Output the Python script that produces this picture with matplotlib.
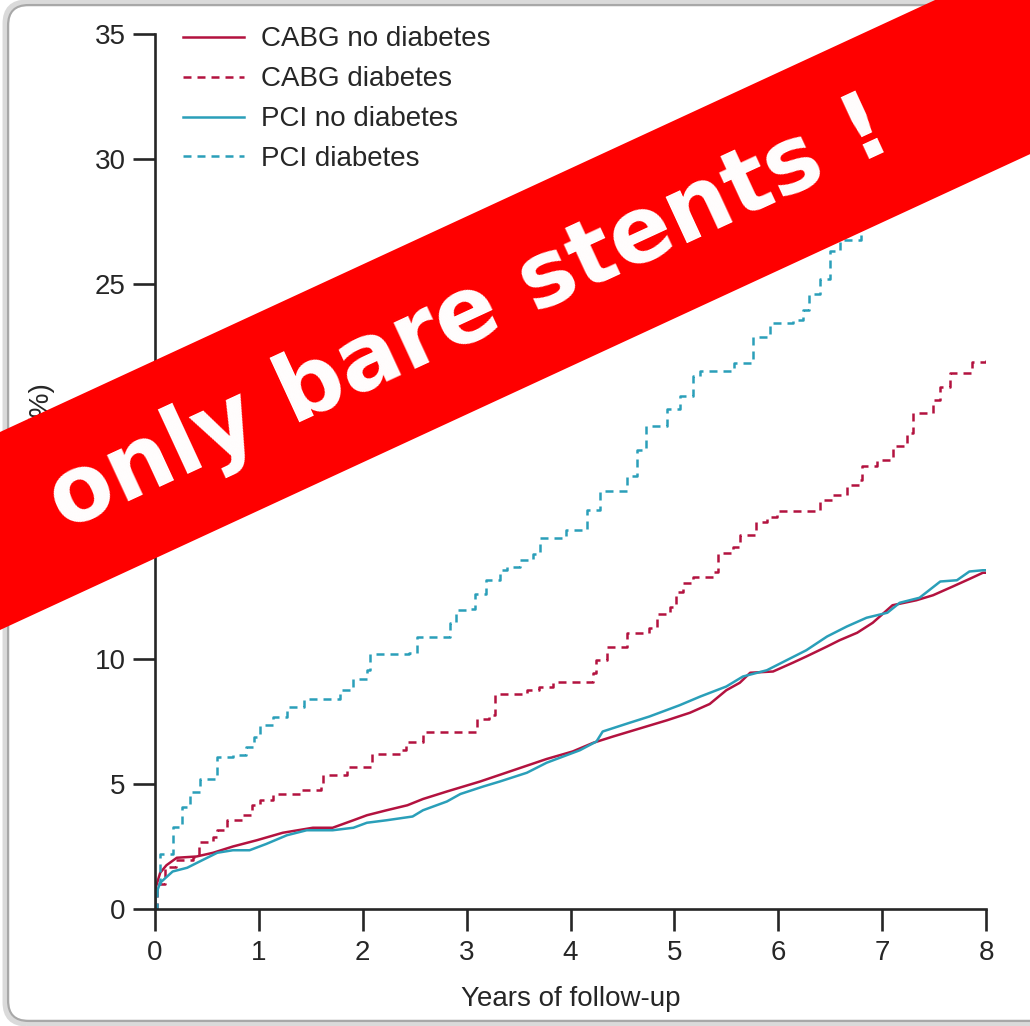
import numpy as np
import matplotlib
matplotlib.use('Agg')
import matplotlib.pyplot as plt
from matplotlib.patches import Polygon, FancyBboxPatch

plt.rcParams['font.family'] = ['Liberation Sans', 'DejaVu Sans']

# Kaplan-Meier curves (years, mortality %)
cabg_nodm_t = [0, 0.01, 0.05, 0.11, 0.21, 0.4, 0.56, 0.75, 0.98, 1.23, 1.52, 1.71, 1.91, 2.04, 2.23, 2.43,
               2.58, 2.81, 3.13, 3.45, 3.77, 4.02, 4.22, 4.41, 4.57, 4.73, 4.93, 5.15, 5.34, 5.5, 5.63, 5.73,
               5.95, 6.14, 6.27, 6.47, 6.59, 6.76, 6.91, 7.1, 7.33, 7.49, 7.68, 7.84, 7.97, 8.0]
cabg_nodm_v = [0, 0.9, 1.45, 1.75, 2.05, 2.1, 2.25, 2.5, 2.75, 3.05, 3.25, 3.25, 3.55, 3.75, 3.95, 4.15,
               4.4, 4.7, 5.1, 5.55, 6.0, 6.3, 6.65, 6.9, 7.1, 7.3, 7.55, 7.85, 8.2, 8.75, 9.05, 9.45,
               9.5, 9.85, 10.1, 10.5, 10.75, 11.05, 11.45, 12.15, 12.35, 12.55, 12.9, 13.2, 13.45, 13.45]

cabg_dm_t = [0, 0.02, 0.1, 0.2, 0.37, 0.42, 0.56, 0.6, 0.69, 0.85, 0.93, 1.01, 1.14, 1.4, 1.6, 1.62, 1.85,
             2.09, 2.36, 2.42, 2.58, 3.1, 3.22, 3.27, 3.58, 3.7, 3.83, 4.22, 4.25, 4.35, 4.54, 4.76, 4.83,
             4.96, 5.02, 5.08, 5.18, 5.37, 5.42, 5.56, 5.63, 5.79, 5.89, 5.99, 6.4, 6.53, 6.66, 6.79, 6.81,
             6.95, 7.1, 7.24, 7.3, 7.49, 7.56, 7.65, 7.87, 8.0]
cabg_dm_v = [0, 1.0, 1.7, 1.95, 2.1, 2.7, 2.9, 3.15, 3.55, 3.75, 4.15, 4.35, 4.6, 4.75, 4.95, 5.35, 5.7,
             6.2, 6.35, 6.7, 7.1, 7.6, 7.75, 8.6, 8.75, 8.9, 9.1, 9.45, 9.95, 10.5, 11.05, 11.25, 11.8,
             12.1, 12.7, 13.05, 13.3, 13.5, 14.25, 14.5, 14.95, 15.5, 15.7, 15.9, 16.35, 16.55, 16.95, 17.15, 17.7,
             17.95, 18.5, 19.05, 19.85, 20.35, 20.9, 21.45, 21.9, 21.95]

pci_nodm_t = [0, 0.01, 0.05, 0.17, 0.31, 0.43, 0.6, 0.75, 0.91, 1.07, 1.27, 1.46, 1.71, 1.91, 2.04, 2.23,
              2.48, 2.58, 2.81, 2.94, 3.16, 3.32, 3.58, 3.77, 4.09, 4.25, 4.31, 4.57, 4.76, 5.05, 5.25, 5.5,
              5.66, 5.89, 6.08, 6.27, 6.47, 6.66, 6.85, 7.05, 7.17, 7.36, 7.56, 7.72, 7.84, 7.97, 8.0]
pci_nodm_v = [0, 0.6, 1.05, 1.5, 1.65, 1.9, 2.25, 2.35, 2.35, 2.6, 2.95, 3.15, 3.15, 3.25, 3.45, 3.55,
              3.7, 3.95, 4.3, 4.6, 4.9, 5.1, 5.45, 5.85, 6.35, 6.7, 7.1, 7.45, 7.7, 8.15, 8.5, 8.9,
              9.3, 9.55, 9.95, 10.35, 10.9, 11.3, 11.65, 11.85, 12.25, 12.45, 13.1, 13.15, 13.5, 13.55, 13.55]

pci_dm_t = [0, 0.02, 0.05, 0.17, 0.26, 0.34, 0.43, 0.6, 0.75, 0.88, 0.95, 1.01, 1.14, 1.27, 1.43, 1.78,
            1.91, 2.04, 2.07, 2.45, 2.52, 2.84, 2.9, 3.03, 3.08, 3.19, 3.32, 3.39, 3.51, 3.64, 3.71, 3.96,
            4.16, 4.28, 4.54, 4.64, 4.73, 4.93, 5.05, 5.18, 5.25, 5.57, 5.76, 5.92, 6.14, 6.24, 6.3, 6.4,
            6.5, 6.59, 6.8, 7.0, 7.3, 7.6]
pci_dm_v = [0, 1.0, 2.2, 3.3, 4.1, 4.7, 5.2, 6.1, 6.15, 6.5, 6.9, 7.35, 7.7, 8.1, 8.4, 8.75,
            9.2, 9.55, 10.2, 10.25, 10.9, 11.45, 11.95, 12.0, 12.6, 13.15, 13.55, 13.7, 13.95, 14.2, 14.85, 15.15,
            15.95, 16.7, 17.3, 18.35, 19.3, 20.0, 20.5, 21.3, 21.5, 21.85, 22.9, 23.45, 23.55, 23.95, 24.6, 25.2,
            26.3, 26.75, 27.6, 28.5, 29.6, 30.8]

labels = ['CABG no diabetes', 'CABG diabetes', 'PCI no diabetes', 'PCI diabetes']
x_ticks = [0, 1, 2, 3, 4, 5, 6, 7, 8]
y_ticks = [0, 5, 10, 15, 20, 25, 30, 35]

cabg_col = '#b3123f'
pci_col = '#2a9fb9'
ink = '#262626'

W, H = 1030, 1026
fig = plt.figure(figsize=(W / 100, H / 100), dpi=100)
fig.patch.set_facecolor('white')
ax = fig.add_axes([155 / W, 1 - 909 / H, 831 / W, 875 / H])

lw = 1.8
dash = (3.2, 2.4)
# solid curves have many tiny steps -> plain line; dashed ones show clear steps
ax.plot(cabg_nodm_t, cabg_nodm_v, color=cabg_col, lw=lw, label=labels[0])
ax.plot(cabg_dm_t, cabg_dm_v, drawstyle='steps-post', color=cabg_col, lw=lw, dashes=dash, label=labels[1])
ax.plot(pci_nodm_t, pci_nodm_v, color=pci_col, lw=lw, label=labels[2])
ax.plot(pci_dm_t, pci_dm_v, drawstyle='steps-post', color=pci_col, lw=lw, dashes=dash, label=labels[3])

ax.set_xlim(0, 8)
ax.set_ylim(0, 35)
ax.set_xticks(x_ticks)
ax.set_yticks(y_ticks)
for s in ['top', 'right']:
    ax.spines[s].set_visible(False)
for s in ['left', 'bottom']:
    ax.spines[s].set_linewidth(1.9)
    ax.spines[s].set_color(ink)
ax.tick_params(direction='out', length=16, width=1.9, color=ink, labelsize=20, labelcolor=ink)
ax.tick_params(axis='y', pad=5)
ax.tick_params(axis='x', pad=6)

ax.set_xlabel('Years of follow-up', fontsize=20, color=ink, labelpad=15)
ax.set_ylabel('Mortality (%)', fontsize=20, color=ink, ha='right')
ax.yaxis.set_label_coords(-0.12, (909 - 383) / 875)

ax.legend(loc='upper left', bbox_to_anchor=(0.034, 1.0086), frameon=False, fontsize=20,
          handlelength=2.2, handletextpad=0.6, labelspacing=0.5, borderpad=0, borderaxespad=0,
          labelcolor=ink)

# rounded frame around the picture (right side runs off the image)
def fx(x):
    return x / W

def fy(y):
    return 1 - y / H

shadow = FancyBboxPatch((fx(6), fy(1023)), 1.2, fy(3) - fy(1023), transform=fig.transFigure,
                        boxstyle='round,pad=0,rounding_size=0.02', fc='none', ec='#dadada', lw=5, zorder=4)
frame = FancyBboxPatch((fx(8), fy(1021)), 1.2, fy(5) - fy(1021), transform=fig.transFigure,
                       boxstyle='round,pad=0,rounding_size=0.02', fc='none', ec='#a8a8a8', lw=1.5, zorder=5)
fig.add_artist(shadow)
fig.add_artist(frame)

# red banner across the chart
slope = -0.462
top0, bot0 = 432, 630
xa, xb = -20, W + 20
band = [(fx(xa), fy(top0 + slope * xa)), (fx(xb), fy(top0 + slope * xb)),
        (fx(xb), fy(bot0 + slope * xb)), (fx(xa), fy(bot0 + slope * xa))]
fig.add_artist(Polygon(band, closed=True, transform=fig.transFigure, fc='#ff0000', ec='none', zorder=10))
ang = np.degrees(np.arctan(-slope))
fig.text(fx(470), fy(316), 'only bare stents !', color='white', fontsize=66, fontweight='bold',
         family='DejaVu Sans', rotation=ang, rotation_mode='anchor', ha='center', va='center', zorder=11)

fig.savefig('out.png', dpi=100)
